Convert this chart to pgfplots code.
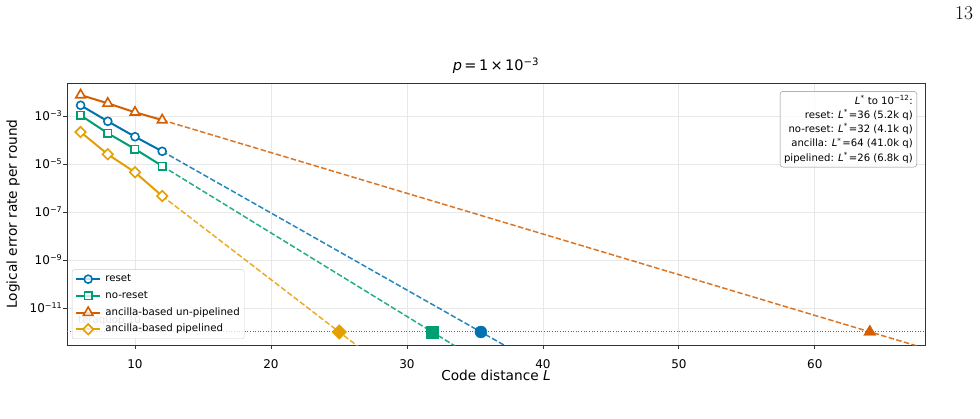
\documentclass[border=0pt]{standalone}
\usepackage{fontspec}
\setsansfont{DejaVu Sans}
\usepackage{pgfplots}
\pgfplotsset{compat=1.18}
\definecolor{cblue}{HTML}{0072B2}
\definecolor{cgreen}{HTML}{009E73}
\definecolor{corange}{HTML}{D55E00}
\definecolor{cyellow}{HTML}{E69F00}
\begin{document}
\begin{tikzpicture}
\path[use as bounding box] (0pt,0pt) rectangle (980pt,418pt);
\node[anchor=base, font=\fontsize{19.5}{22}\selectfont\rmfamily] at (964pt,398pt) {13};
\begin{axis}[
  at={(67pt,73pt)}, anchor=south west,
  width=858pt, height=262pt, scale only axis,
  font=\sffamily,
  xmin=5, xmax=68.1,
  ymode=log, ymin=2.85e-13, ymax=2.51e-2,
  xtick={10,20,30,40,50,60},
  ytick={1e-3,1e-5,1e-7,1e-9,1e-11},
  yticklabels={\mbox{10\textsuperscript{−3}},\mbox{10\textsuperscript{−5}},\mbox{10\textsuperscript{−7}},\mbox{10\textsuperscript{−9}},\mbox{10\textsuperscript{−11}}},
  yminorticks=false, xminorticks=false,
  tick pos=left, tick align=outside, major tick length=3.5pt,
  every tick/.style={black!80, line width=0.8pt},
  axis line style={black!80, line width=1pt},
  grid=major, major grid style={black!9, line width=0.8pt},
  /pgf/number format/assume math mode=true,
  ticklabel style={font=\fontsize{12}{14}\selectfont\sffamily},
  xticklabel style={anchor=base, yshift=-20pt},
  yticklabel style={anchor=base east, inner sep=0pt, xshift=-1pt, yshift=-4.4pt},
  xlabel={Code distance \textit{L}},
  ylabel={Logical error rate per round},
  label style={font=\fontsize{13.7}{16}\selectfont\sffamily},
  xlabel style={at={(axis description cs:0.5,-0.1145)}, anchor=center},
  ylabel style={at={(axis description cs:-0.0629,0.5)}, anchor=center},
  title={\textit{p}\,=\,1\,×\,10\textsuperscript{−3}},
  title style={font=\fontsize{14.5}{17}\selectfont\sffamily, at={(axis description cs:0.5,1)}, anchor=base, yshift=6.3pt},
  legend cell align=left,
  legend image code/.code={\draw[mark repeat=2,mark phase=2] plot coordinates {(0pt,0pt)(12pt,0pt)(24pt,0pt)};},
  legend style={font=\fontsize{10.2}{12}\selectfont\sffamily, at={(0.0058,0.023)}, anchor=south west,
    draw=black!20, rounded corners=2pt, fill=white, fill opacity=0.8, text opacity=1,
    inner xsep=3pt, inner ysep=3pt, row sep=3.7pt, column sep=2.7pt,
    nodes={inner sep=1.5pt, text height=7.6pt, text depth=2.4pt}},
]
% extrapolations
\addplot[forget plot, cblue, opacity=0.85, line width=1.5pt, dash pattern=on 5.5pt off 2.4pt] coordinates {(12,3.52e-5)(40,3.4e-14)};
\addplot[forget plot, cgreen, opacity=0.85, line width=1.5pt, dash pattern=on 5.5pt off 2.4pt] coordinates {(12,8.55e-6)(36,3.58e-14)};
\addplot[forget plot, corange, opacity=0.85, line width=1.5pt, dash pattern=on 5.5pt off 2.4pt] coordinates {(12,7.14e-4)(70,9.8e-14)};
\addplot[forget plot, cyellow, opacity=0.85, line width=1.5pt, dash pattern=on 5.5pt off 2.4pt] coordinates {(12,4.78e-7)(28,5.0e-14)};
% teraquop line
\addplot[forget plot, black!60, line width=1pt, dash pattern=on 1pt off 1.65pt] coordinates {(5,1e-12)(68.1,1e-12)};
\node[anchor=base west, inner sep=0pt, text=black!50, font=\fontsize{10.2}{12}\selectfont\sffamily] at (axis cs:5.81,1e-12) [yshift=8.7pt] {teraquop 10\textsuperscript{−12}};
% data
\addplot[cblue, line width=2pt, mark=*, mark size=4pt, mark options={solid, fill=white, line width=1.6pt}] coordinates {(6,2.94e-3)(8,6.31e-4)(10,1.43e-4)(12,3.52e-5)};
\addlegendentry{reset}
\addplot[cgreen, line width=2pt, mark=square*, mark size=3.7pt, mark options={solid, fill=white, line width=1.6pt}] coordinates {(6,1.12e-3)(8,2.0e-4)(10,4.39e-5)(12,8.55e-6)};
\addlegendentry{no-reset}
\addplot[corange, line width=2pt, mark=triangle*, mark size=5.5pt, mark options={solid, fill=white, line width=1.6pt}] coordinates {(6,7.91e-3)(8,3.56e-3)(10,1.50e-3)(12,7.14e-4)};
\addlegendentry{ancilla-based un-pipelined}
\addplot[cyellow, line width=2pt, mark=square*, mark size=3.7pt, mark options={solid, fill=white, line width=1.6pt, rotate=45}] coordinates {(6,2.25e-4)(8,2.64e-5)(10,4.67e-6)(12,4.78e-7)};
\addlegendentry{ancilla-based pipelined}
% crossing markers
\addplot[forget plot, only marks, mark=*, mark size=6pt, color=cblue] coordinates {(35.44,1e-12)};
\addplot[forget plot, only marks, mark=square*, mark size=6pt, color=cgreen] coordinates {(31.86,1e-12)};
\addplot[forget plot, only marks, mark=triangle*, mark size=7pt, color=corange] coordinates {(64.04,1e-12)};
\addplot[forget plot, only marks, mark=square*, mark size=5.2pt, mark options={rotate=45}, color=cyellow] coordinates {(25.02,1e-12)};
% annotation box
\node[anchor=north east, draw=black!45, rounded corners=3pt, fill=white, fill opacity=0.8, text opacity=1,
  align=right, inner sep=4pt, font=\fontsize{10.1}{14.2}\selectfont\sffamily]
  at (rel axis cs:0.9907,0.969)
  {\textit{L}\textsuperscript{*} to 10\textsuperscript{−12}:\\
   reset: \textit{L}\textsuperscript{*}\hspace{0.1em}=36 (5.2k q)\\
   no-reset: \textit{L}\textsuperscript{*}\hspace{0.1em}=32 (4.1k q)\\
   ancilla: \textit{L}\textsuperscript{*}\hspace{0.1em}=64 (41.0k q)\\
   pipelined: \textit{L}\textsuperscript{*}\hspace{0.1em}=26 (6.8k q)};
\end{axis}
\end{tikzpicture}
\end{document}
